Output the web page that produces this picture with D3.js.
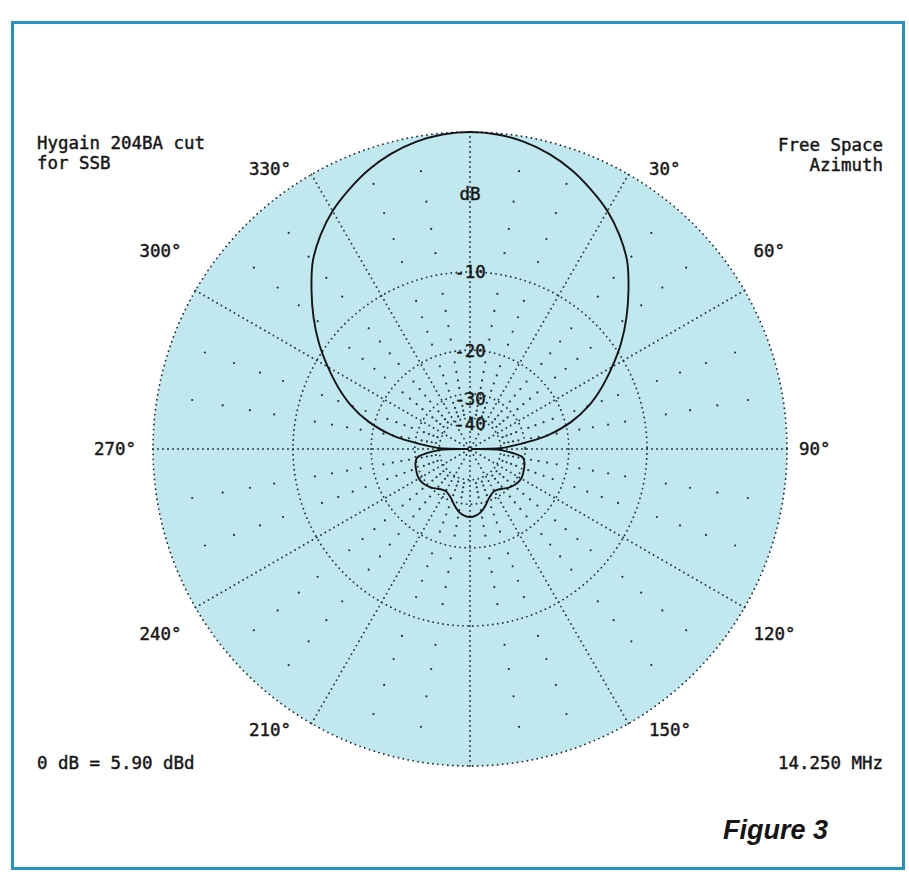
<!DOCTYPE html>
<html>
<head>
<meta charset="utf-8">
<script src="https://cdn.jsdelivr.net/npm/d3@7"></script>
<style>
  html, body { margin: 0; padding: 0; background: #ffffff; }
  svg { display: block; }
  .mono { font-family: "DejaVu Sans Mono", monospace; font-size: 18px; fill: #161616; stroke: #161616; stroke-width: 0.45px; }
  .fig { font-family: "Liberation Sans", Arial, sans-serif; font-size: 27px; font-weight: bold; font-style: italic; fill: #151515; }
</style>
</head>
<body>
<svg id="chart" width="909" height="873"></svg>
<script>
// Free-space azimuth pattern, dB relative to the forward maximum
const patternAngles = [
  0, 5, 10, 15, 20, 25, 30, 35, 40, 45, 50, 55, 60, 65, 70, 75, 80, 82, 84, 86, 88, 89, 90,
  91, 92, 94, 96, 98, 100, 105, 110, 115, 120, 125, 130, 135, 140, 145, 150, 155, 160, 165, 170, 175,
  180, 185, 190, 195, 200, 205, 210, 215, 220, 225, 230, 235, 240, 245, 250, 255, 260, 262, 264, 266, 268, 269,
  270, 271, 272, 274, 276, 278, 280, 285, 290, 295, 300, 305, 310, 315, 320, 325, 330, 335, 340, 345, 350, 355
];
const patternDb = [
  0, -0.07, -0.28, -0.63, -1.12, -1.75, -2.45, -3.35, -4.45, -5.95, -7.55, -9.3, -11.3, -13.4, -15.8, -19.0, -23.8, -27.0, -31.0, -35.0, -39.0, -42.0, -90,
  -42.0, -40.0, -36.5, -33.5, -31.2, -30.3, -29.6, -29.3, -29.0, -28.8, -29.0, -29.5, -30.2, -31.1, -31.9, -32.2, -31.6, -30.5, -28.9, -27.5, -26.7,
  -26.4, -26.7, -27.5, -28.9, -30.5, -31.6, -32.2, -31.9, -31.1, -30.2, -29.5, -29.0, -28.8, -29.0, -29.3, -29.6, -30.3, -31.2, -33.5, -36.5, -40.0, -42.0,
  -90, -42.0, -39.0, -35.0, -31.0, -27.0, -23.8, -19.0, -15.8, -13.4, -11.3, -9.3, -7.55, -5.95, -4.45, -3.35, -2.45, -1.75, -1.12, -0.63, -0.28, -0.07
];

// Grid: labelled dB circles, 30-degree spokes, and the lighter 10-degree / 2-dB dot lattice
const ringDb = [0, -10, -20, -30, -40];
const ringLabels = ["dB", "-10", "-20", "-30", "-40"];
const ringLabelDb = [-3.7, -10, -20, -30, -40];
const spokeAngles = [0, 30, 60, 90, 120, 150, 180, 210, 240, 270, 300, 330];
const angleLabelAngles = [30, 60, 90, 120, 150, 210, 240, 270, 300, 330];
const angleLabels = ["30°", "60°", "90°", "120°", "150°", "210°", "240°", "270°", "300°", "330°"];
const latticeAngles = [10, 20, 40, 50, 70, 80, 100, 110, 130, 140, 160, 170, 190, 200, 220, 230, 250, 260, 280, 290, 310, 320, 340, 350];
const latticeDb = [-2, -4, -6, -8, -12, -14, -16, -18, -22, -24, -26, -28, -32, -34, -36, -38];

// Corner annotations
const titleLines = ["Hygain 204BA cut", "for SSB"];
const modeLines = ["Free Space", "Azimuth"];
const gainNote = "0 dB = 5.90 dBd";
const freqNote = "14.250 MHz";
const figureLabel = "Figure 3";

const W = 909, H = 873;
const cx = 470, cy = 449, R = 317;
const charW = 10.5;           // fixed cell width of the plotter font
const fill = "#c1e8ee";
const dotColor = "#25323b";

const svg = d3.select("#chart");

// ARRL log-periodic radius: power ratio raised to 0.2531 (0.89 per 2 dB)
const rScale = d3.scalePow().exponent(0.25306).domain([0, 1]).range([0, R]);
const rOf = db => rScale(Math.pow(10, db / 10));
const rad = a => a * Math.PI / 180;

// Monospaced text held to a fixed cell width
function mono(sel) {
  return sel.attr("textLength", d => d.length * charW).attr("lengthAdjust", "spacingAndGlyphs");
}

// Frame
svg.append("rect").attr("x", 0).attr("y", 0).attr("width", W).attr("height", H).attr("fill", "#ffffff");
svg.append("rect")
  .attr("x", 12.5).attr("y", 22.5).attr("width", 891).attr("height", 846)
  .attr("fill", "none").attr("stroke", "#2393c0").attr("stroke-width", 3);

const g = svg.append("g").attr("transform", `translate(${cx},${cy})`);

// Shaded plot disk
g.append("circle").attr("r", R).attr("fill", fill);

// Dotted dB circles
g.selectAll("circle.ring").data(ringDb).join("circle")
  .attr("class", "ring")
  .attr("r", d => rOf(d))
  .attr("fill", "none")
  .attr("stroke", dotColor)
  .attr("stroke-width", 1.9)
  .attr("stroke-linecap", "round")
  .attr("stroke-dasharray", "0 5");

// Dotted spokes
g.selectAll("line.spoke").data(spokeAngles).join("line")
  .attr("class", "spoke")
  .attr("x1", d => Math.sin(rad(d)) * R)
  .attr("y1", d => -Math.cos(rad(d)) * R)
  .attr("x2", 0).attr("y2", 0)
  .attr("stroke", dotColor)
  .attr("stroke-width", 1.9)
  .attr("stroke-linecap", "round")
  .attr("stroke-dasharray", "0 5");

// Sparse lattice dots
const lattice = latticeAngles.flatMap(a => latticeDb.map(db => ({ a, db })));
g.selectAll("circle.lat").data(lattice).join("circle")
  .attr("class", "lat")
  .attr("cx", d => Math.sin(rad(d.a)) * rOf(d.db))
  .attr("cy", d => -Math.cos(rad(d.a)) * rOf(d.db))
  .attr("r", 1.1)
  .attr("fill", dotColor);

// Pattern trace
const pattern = patternAngles.map((a, i) => ({ a, db: patternDb[i] }));
const line = d3.lineRadial()
  .angle(d => rad(d.a))
  .radius(d => rOf(d.db))
  .curve(d3.curveCatmullRomClosed.alpha(0.5));
g.append("path")
  .datum(pattern)
  .attr("d", line)
  .attr("fill", "none")
  .attr("stroke", "#141414")
  .attr("stroke-width", 1.9)
  .attr("stroke-linejoin", "round");

// dB scale labels down the 0-degree spoke (inner ones sit just under their circle)
g.selectAll("text.rl").data(ringLabels).join("text")
  .attr("class", "rl mono")
  .attr("x", 0)
  .attr("y", (d, i) => -rOf(ringLabelDb[i]) + (ringLabelDb[i] <= -30 ? 5 : 0))
  .attr("dy", "0.36em")
  .attr("text-anchor", "middle")
  .call(mono)
  .text(d => d);

// Azimuth labels round the rim; the plotter sets them on its text grid, which pulls
// the 30-degree labels slightly toward the horizontal and the 60-degree ones upward.
function rimPoint(a) {
  const s = Math.sin(rad(a)), c = Math.cos(rad(a));
  const phi = Math.round(Math.asin(Math.min(1, Math.abs(s))) * 180 / Math.PI);
  let p = phi, r = 329, lift = 0;
  if (phi === 30) { p = 32.5; r = 333; }
  else if (phi === 60) { p = 56; r = 342; lift = 7; }
  const extra = (s < 0 && phi >= 60) ? 5 : 0;   // left-hand labels run one notch wider
  return [Math.sign(s) * (r * Math.sin(rad(p)) + extra), -Math.sign(c) * r * Math.cos(rad(p)) - lift];
}
g.selectAll("text.al").data(angleLabels).join("text")
  .attr("class", "al mono")
  .attr("x", (d, i) => rimPoint(angleLabelAngles[i])[0])
  .attr("y", (d, i) => rimPoint(angleLabelAngles[i])[1])
  .attr("dy", "0.36em")
  .attr("text-anchor", (d, i) => Math.sin(rad(angleLabelAngles[i])) > 0 ? "start" : "end")
  .call(mono)
  .text(d => d);

// Corner annotations
svg.selectAll("text.tl").data(titleLines).join("text")
  .attr("class", "tl mono").attr("x", 37).attr("y", (d, i) => 149 + i * 20).call(mono).text(d => d);
svg.selectAll("text.tr").data(modeLines).join("text")
  .attr("class", "tr mono").attr("x", 883).attr("y", (d, i) => 151 + i * 20)
  .attr("text-anchor", "end").call(mono).text(d => d);
svg.append("text").datum(gainNote).attr("class", "mono").attr("x", 37).attr("y", 769).call(mono).text(d => d);
svg.append("text").datum(freqNote).attr("class", "mono").attr("x", 883).attr("y", 769).attr("text-anchor", "end").call(mono).text(d => d);
svg.append("text").attr("class", "fig").attr("x", 828).attr("y", 839).attr("text-anchor", "end").text(figureLabel);
</script>
</body>
</html>
